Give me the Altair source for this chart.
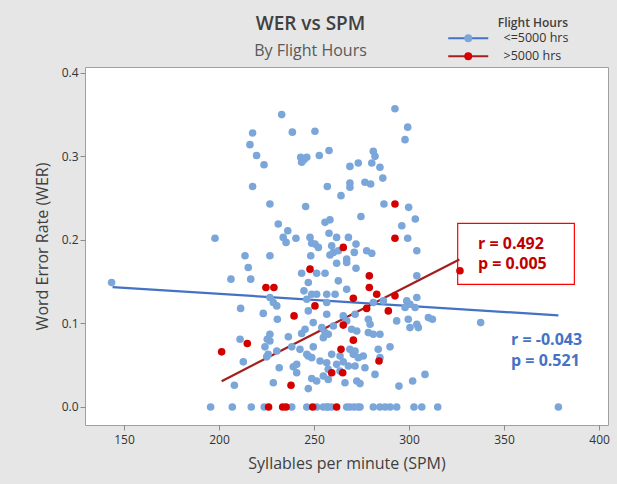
import altair as alt
import pandas as pd

# ---- data ----
groups = ["<=5000 hrs", ">5000 hrs"]

blue_spm = [
    233.0, 217.7, 238.6, 250.5, 216.3, 219.8, 223.7, 292.6, 299.3, 297.9,
    243.0, 244.7, 246.2, 243.5, 252.8, 257.9, 281.2, 282.1, 268.9, 273.3,
    280.4, 284.7, 217.7, 257.0, 268.9, 268.9, 276.8, 279.8, 286.2, 264.2,
    226.8, 245.6, 286.8, 299.8, 274.7, 303.3, 231.2, 236.2, 255.8, 258.4,
    296.2, 197.9, 233.8, 235.3, 240.5, 247.9, 248.8, 250.5, 252.3, 257.9,
    261.9, 268.1, 299.3, 304.1, 213.7, 226.8, 259.3, 260.2, 258.4, 262.8,
    267.2, 271.2, 272.1, 277.7, 280.4, 248.3, 261.9, 267.2, 215.4,
    206.3, 216.7, 243.5, 251.4, 255.8, 247.0, 272.1, 226.8, 228.6, 230.4,
    262.8, 267.2, 244.7, 248.8, 251.4, 246.2, 256.7, 261.1, 256.7, 281.2,
    286.5, 298.8, 300.5, 303.2, 297.9, 211.4, 223.3, 230.7, 247.0, 249.6,
    256.7, 265.4, 271.6, 278.6, 279.5, 245.3, 243.5, 254.1, 255.8, 254.9,
    257.5, 260.2, 267.2, 269.8, 272.5, 293.5, 299.6, 304.1, 300.5, 304.9,
    278.6, 281.2, 284.7, 211.1, 226.8, 225.4, 226.8, 236.5, 224.2, 230.4,
    225.9, 225.1, 238.3, 242.6, 247.0, 249.6, 246.2, 248.8, 268.9, 270.7,
    273.3, 275.9, 271.6, 283.8, 290.0, 284.7, 259.3, 263.7, 256.7, 253.2,
    261.9, 265.4, 268.1, 271.6, 263.7, 257.5, 212.8, 240.9, 239.1, 240.9,
    231.7, 276.8, 282.1, 248.8, 254.9, 257.5, 251.4, 247.0, 266.3, 272.5,
    274.2, 228.6, 208.1, 294.7, 301.9, 304.1, 304.1, 310.2, 312.3, 337.7,
    308.4, 143.5,
    195.6, 207.0, 217.0, 223.8, 238.3, 246.2, 251.4, 254.9, 256.7, 257.5,
    259.3, 267.2, 268.9, 271.1, 273.3, 274.2, 281.2, 284.7, 287.4, 290.0,
    293.5, 302.6, 306.7, 315.1, 378.6,
]
blue_wer = [
    0.350, 0.328, 0.329, 0.330, 0.314, 0.301, 0.290, 0.357, 0.335, 0.320,
    0.299, 0.296, 0.299, 0.293, 0.301, 0.307, 0.306, 0.300, 0.288, 0.292,
    0.292, 0.287, 0.264, 0.264, 0.268, 0.263, 0.269, 0.267, 0.274, 0.253,
    0.243, 0.240, 0.243, 0.239, 0.228, 0.225, 0.219, 0.211, 0.221, 0.224,
    0.217, 0.202, 0.203, 0.197, 0.202, 0.203, 0.196, 0.195, 0.191, 0.208,
    0.203, 0.203, 0.202, 0.187, 0.181, 0.181, 0.193, 0.185, 0.182, 0.187,
    0.177, 0.185, 0.195, 0.187, 0.184, 0.181, 0.172, 0.173, 0.167,
    0.153, 0.153, 0.160, 0.160, 0.160, 0.149, 0.166, 0.131, 0.125, 0.121,
    0.151, 0.141, 0.139, 0.135, 0.135, 0.129, 0.135, 0.135, 0.125, 0.125,
    0.127, 0.127, 0.123, 0.119, 0.119, 0.118, 0.112, 0.105, 0.115, 0.101,
    0.111, 0.109, 0.111, 0.105, 0.099, 0.093, 0.088, 0.095, 0.089, 0.083,
    0.087, 0.097, 0.103, 0.093, 0.091, 0.103, 0.105, 0.099, 0.095, 0.095,
    0.089, 0.087, 0.087, 0.081, 0.087, 0.081, 0.079, 0.084, 0.072, 0.067,
    0.063, 0.060, 0.072, 0.069, 0.061, 0.072, 0.063, 0.059, 0.069, 0.063,
    0.059, 0.061, 0.067, 0.069, 0.072, 0.059, 0.063, 0.061, 0.053, 0.055,
    0.051, 0.054, 0.049, 0.049, 0.043, 0.045, 0.054, 0.051, 0.048, 0.041,
    0.047, 0.047, 0.039, 0.034, 0.037, 0.033, 0.031, 0.022, 0.029, 0.031,
    0.028, 0.029, 0.026, 0.025, 0.031, 0.157, 0.131, 0.107, 0.105, 0.101,
    0.039, 0.149,
    0.0, 0.0, 0.0, 0.0, 0.0, 0.0, 0.0, 0.0, 0.0, 0.0,
    0.0, 0.0, 0.0, 0.0, 0.0, 0.0, 0.0, 0.0, 0.0, 0.0,
    0.0, 0.0, 0.0, 0.0, 0.0,
]

red_spm = [292.6, 292.6, 265.4, 247.9, 279.1, 279.1, 283.0, 292.6, 270.7, 224.7,
           228.9, 277.7, 289.1, 250.5, 239.5, 265.4, 270.7, 214.9, 201.4, 264.2,
           284.2, 259.3, 265.1, 237.9, 326.8, 226.1, 233.5, 235.3, 249.3, 261.9]
red_wer = [0.243, 0.202, 0.191, 0.165, 0.157, 0.143, 0.135, 0.133, 0.130, 0.143,
           0.143, 0.118, 0.115, 0.121, 0.109, 0.098, 0.080, 0.076, 0.066, 0.069,
           0.055, 0.041, 0.041, 0.026, 0.163, 0.0, 0.0, 0.0, 0.0, 0.0]

# fitted regression lines (end points)
fit_blue_spm = [144.0, 378.6]
fit_blue_wer = [0.1435, 0.1096]
fit_red_spm = [201.4, 326.5]
fit_red_wer = [0.0309, 0.1766]

# annotation texts and box
red_note = ["r = 0.492", "p = 0.005"]
red_note_spm = [336.3, 336.3]
red_note_wer = [0.1946, 0.1707]
blue_note = ["r = -0.043", "p = 0.521"]
blue_note_spm = [353.7, 353.7]
blue_note_wer = [0.0796, 0.0545]
box_spm = [325.6, 387.0]
box_wer = [0.2198, 0.1467]

x_ticks = [150, 200, 250, 300, 350, 400]
y_ticks = [0.0, 0.1, 0.2, 0.3, 0.4]
x_domain = [129.5, 404.7]
y_domain = [-0.0216, 0.407]

fill_colors = ["#7ba6da", "#d40000"]
stroke_colors = ["#4472c4", "#a31f1f"]

FONT = "Open Sans"

# ---- tables ----
pts = pd.DataFrame({
    "spm": blue_spm + red_spm,
    "wer": blue_wer + red_wer,
    "group": [groups[0]] * len(blue_spm) + [groups[1]] * len(red_spm),
})
fits = pd.DataFrame({
    "spm": fit_blue_spm + fit_red_spm,
    "wer": fit_blue_wer + fit_red_wer,
    "group": [groups[0]] * 2 + [groups[1]] * 2,
})
red_txt = pd.DataFrame({"spm": red_note_spm, "wer": red_note_wer, "label": red_note})
blue_txt = pd.DataFrame({"spm": blue_note_spm, "wer": blue_note_wer, "label": blue_note})
box = pd.DataFrame({"spm": [box_spm[0]], "spm2": [box_spm[1]],
                    "wer": [box_wer[0]], "wer2": [box_wer[1]]})

x_axis = alt.Axis(values=x_ticks, title="Syllables per minute (SPM)", grid=False, domain=False,
                  tickColor="#8c8c8c", tickSize=5, labelFontSize=12, labelColor="#333333",
                  labelPadding=4, labelFont=FONT, titleFont=FONT, titleFontSize=16,
                  titleFontWeight="normal", titleColor="#404040", titlePadding=10)
y_axis = alt.Axis(values=y_ticks, format=".1f", title="Word Error Rate (WER)", grid=False,
                  domain=False, tickColor="#8c8c8c", tickSize=5, labelFontSize=12,
                  labelColor="#333333", labelPadding=2, labelFont=FONT, titleFont=FONT,
                  titleFontSize=16, titleFontWeight="normal", titleColor="#404040",
                  titlePadding=11)
xs = alt.Scale(domain=x_domain, nice=False, zero=False)
ys = alt.Scale(domain=y_domain, nice=False, zero=False)


def X(field="spm"):
    return alt.X(f"{field}:Q", scale=xs, axis=x_axis)


def Y(field="wer"):
    return alt.Y(f"{field}:Q", scale=ys, axis=y_axis)


NB = "\u00a0"
label_expr = f"datum.label == '>5000 hrs' ? '{NB}{NB}{NB}>5000 hrs' : datum.label"
leg_common = dict(orient="none", legendX=377, legendY=-49,
                  symbolSize=64, labelOffset=29, labelFont=FONT, labelFontSize=12.5,
                  labelColor="#333333", titleFont=FONT, titleFontSize=12,
                  titleFontWeight=600, titleColor="#404040", titleAnchor="end",
                  titlePadding=2, rowPadding=5, padding=0)

rect = alt.Chart(box).mark_rect(filled=False, stroke="#ff0000", strokeWidth=1.2).encode(
    x=X("spm"), x2="spm2", y=Y("wer"), y2="wer2")

# line legend (visible title and labels); scale domain comes from the data,
# so it stays a legend of its own
lines = alt.Chart(fits).mark_line(strokeWidth=2.2).encode(
    x=X(), y=Y(), detail="group:N",
    stroke=alt.Stroke("group:N", scale=alt.Scale(range=stroke_colors),
                      legend=alt.Legend(title="Flight Hours", labelExpr=label_expr,
                                        symbolType="M-5,0L5,0", symbolStrokeWidth=2.2,
                                        zindex=1, **leg_common)))

# point legend: only its dots, laid on the middle of the legend lines
points = alt.Chart(pts).mark_circle(size=58, opacity=1).encode(
    x=X(), y=Y(),
    fill=alt.Fill("group:N", scale=alt.Scale(domain=groups, range=fill_colors),
                  legend=alt.Legend(title=NB, labelExpr=f"'{NB}'",
                                    symbolType="circle", symbolStrokeWidth=0,
                                    zindex=2, **leg_common)))

red_text = alt.Chart(red_txt).mark_text(align="left", baseline="middle", font=FONT,
                                        fontSize=16, fontWeight="bold", color="#c00000").encode(
    x=X(), y=Y(), text="label:N")
blue_text = alt.Chart(blue_txt).mark_text(align="left", baseline="middle", font=FONT,
                                          fontSize=16, fontWeight="bold", color="#4472c4").encode(
    x=X(), y=Y(), text="label:N")

chart = alt.layer(rect, lines, points, red_text, blue_text).properties(
    width=523, height=358,
    padding={"left": 85, "top": 67, "right": 9, "bottom": 59},
    autosize="none",
    background="#e6e6e6",
    title=alt.TitleParams(text="WER vs SPM", subtitle="By Flight Hours", anchor="middle",
                          dx=-36, font=FONT, fontSize=19, fontWeight=600, color="#404040",
                          subtitleFont=FONT, subtitleFontSize=16, subtitleColor="#595959",
                          subtitlePadding=9, offset=-41),
).configure_view(stroke="#a0a0a0", fill="white", strokeWidth=1)

chart.save("out.html", embed_options={"renderer": "svg", "actions": False})
